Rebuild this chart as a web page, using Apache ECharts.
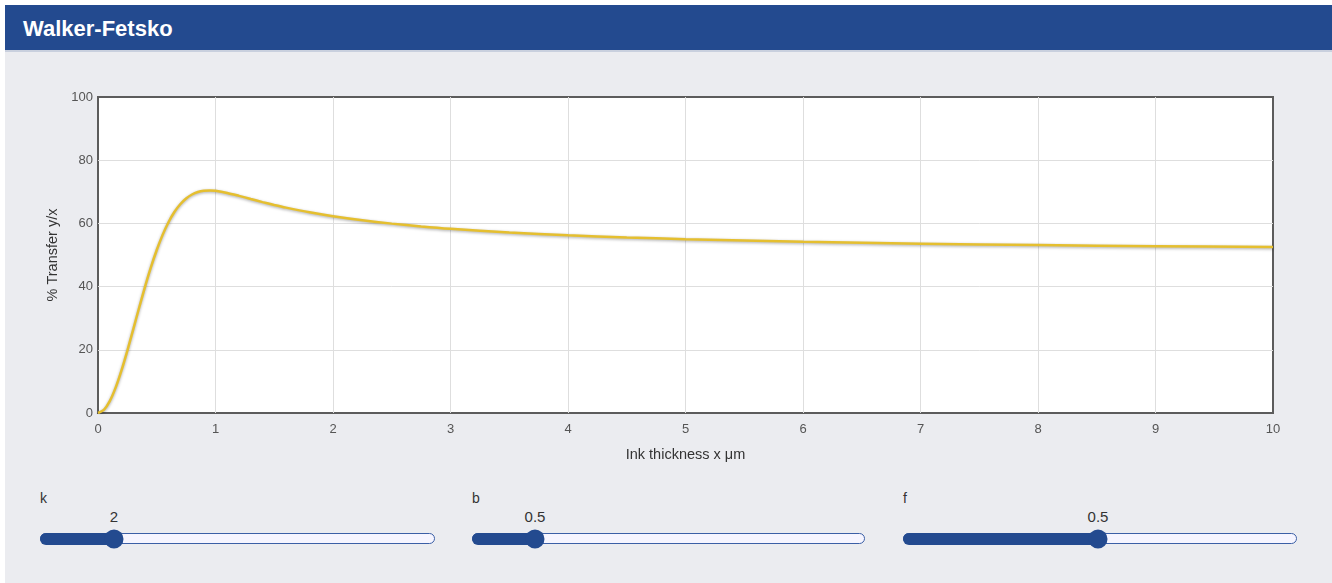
<!DOCTYPE html>
<html>
<head>
<meta charset="utf-8">
<script src="https://cdn.jsdelivr.net/npm/echarts@6/dist/echarts.min.js"></script>
<style>
  html, body { margin: 0; padding: 0; width: 1332px; height: 583px; background: #ffffff; overflow: hidden; font-family: "Liberation Sans", Arial, sans-serif; }
  #header { position: absolute; left: 5px; top: 5px; width: 1327px; height: 45px; background: #234a8f; }
  #header span { position: absolute; left: 18px; top: 11px; color: #ffffff; font-weight: bold; font-size: 22px; }
  #panel { position: absolute; left: 5px; top: 50px; width: 1327px; height: 533px; background: #ebecf0; border-top: 2px solid #c9d0de; box-sizing: border-box; }
  #chart { position: absolute; left: 0; top: 0; width: 1332px; height: 470px; }
  .lbl { position: absolute; font-size: 14px; color: #333; }
  .val { position: absolute; font-size: 15px; color: #333; transform: translateX(-50%); }
  .track { position: absolute; height: 9px; border: 1.5px solid #3b5fa6; border-radius: 6px; background: #f6f5ff; }
  .fill { position: absolute; height: 12px; border-radius: 6px; background: #234a8f; }
  .thumb { position: absolute; width: 19px; height: 19px; border-radius: 50%; background: #234a8f; transform: translate(-50%, -50%); }
</style>
</head>
<body>
<div id="header"><span>Walker-Fetsko</span></div>
<div id="panel"></div>
<div id="chart"></div>
<div id="sliders"></div>
<script>
// Data (ink thickness x in µm, % transfer y/x)
const xValues = [0, 0.05, 0.1, 0.15, 0.2, 0.25, 0.3, 0.35, 0.4, 0.45, 0.5, 0.55, 0.6, 0.65, 0.7, 0.75, 0.8, 0.85, 0.9, 0.95, 1.0, 1.1, 1.2, 1.3, 1.4, 1.5, 1.6, 1.8, 2.0, 2.25, 2.5, 2.75, 3, 3.5, 4, 4.5, 5, 6, 7, 8, 9, 10];
const transferValues = [0, 0.97, 3.74, 8.02, 13.49, 19.76, 26.48, 33.30, 39.91, 46.06, 51.58, 56.37, 60.38, 63.59, 66.07, 67.90, 69.15, 69.92, 70.32, 70.42, 70.31, 69.65, 68.72, 67.72, 66.74, 65.83, 64.99, 63.51, 62.27, 60.99, 59.93, 59.05, 58.31, 57.14, 56.25, 55.56, 55.0, 54.17, 53.57, 53.13, 52.78, 52.5];
const xTicks = [0, 1, 2, 3, 4, 5, 6, 7, 8, 9, 10];
const yTicks = [0, 20, 40, 60, 80, 100];
const sliderNames = ['k', 'b', 'f'];
const sliderValues = ['2', '0.5', '0.5'];

const chart = echarts.init(document.getElementById('chart'), null, { renderer: 'canvas' });
const seriesData = xValues.map((x, i) => [x, transferValues[i]]);
chart.setOption({
  backgroundColor: 'transparent',
  animation: false,
  grid: { left: 98, top: 97, right: 59, bottom: 57, show: true, backgroundColor: '#ffffff', borderColor: '#5c5c5c', borderWidth: 2 },
  xAxis: {
    type: 'value', min: 0, max: 10, interval: 1,
    name: 'Ink thickness x μm', nameLocation: 'middle', nameGap: 34,
    nameTextStyle: { color: '#333', fontSize: 14.5, fontFamily: 'Liberation Sans' },
    axisLine: { show: false }, axisTick: { show: false },
    axisLabel: { color: '#555', fontSize: 13, margin: 10, fontFamily: 'Liberation Sans', formatter: v => xTicks.includes(v) ? String(v) : '' },
    splitLine: { show: true, showMinLine: false, showMaxLine: false, lineStyle: { color: '#dedede', width: 1 } }
  },
  yAxis: {
    type: 'value', min: 0, max: 100, interval: 20,
    name: '% Transfer y/x', nameLocation: 'middle', nameGap: 37, nameRotate: 90,
    nameTextStyle: { color: '#333', fontSize: 14.5, fontFamily: 'Liberation Sans' },
    axisLine: { show: false }, axisTick: { show: false },
    axisLabel: { color: '#555', fontSize: 13, margin: 5, fontFamily: 'Liberation Sans', formatter: v => yTicks.includes(v) ? String(v) : '' },
    splitLine: { show: true, showMinLine: false, showMaxLine: false, lineStyle: { color: '#dedede', width: 1 } }
  },
  series: [{
    type: 'line', data: seriesData, smooth: 0.3, showSymbol: false,
    lineStyle: { color: '#e5bf2f', width: 2.5, shadowColor: 'rgba(0,0,0,0.35)', shadowBlur: 3, shadowOffsetY: 1 }
  }]
});

// Parameter sliders (UI widgets under the chart)
const sliderLayout = [
  { left: 40, width: 396, thumb: 114 },
  { left: 472, width: 394, thumb: 535 },
  { left: 903, width: 395, thumb: 1098 }
];
const box = document.getElementById('sliders');
sliderLayout.forEach((s, i) => {
  box.insertAdjacentHTML('beforeend',
    `<div class="lbl" style="left:${s.left}px;top:490px">${sliderNames[i]}</div>` +
    `<div class="val" style="left:${s.thumb}px;top:508px">${sliderValues[i]}</div>` +
    `<div class="track" style="left:${s.left}px;top:533px;width:${s.width - 3}px"></div>` +
    `<div class="fill" style="left:${s.left}px;top:533px;width:${s.thumb - s.left}px"></div>` +
    `<div class="thumb" style="left:${s.thumb}px;top:539px"></div>`);
});
</script>
</body>
</html>
